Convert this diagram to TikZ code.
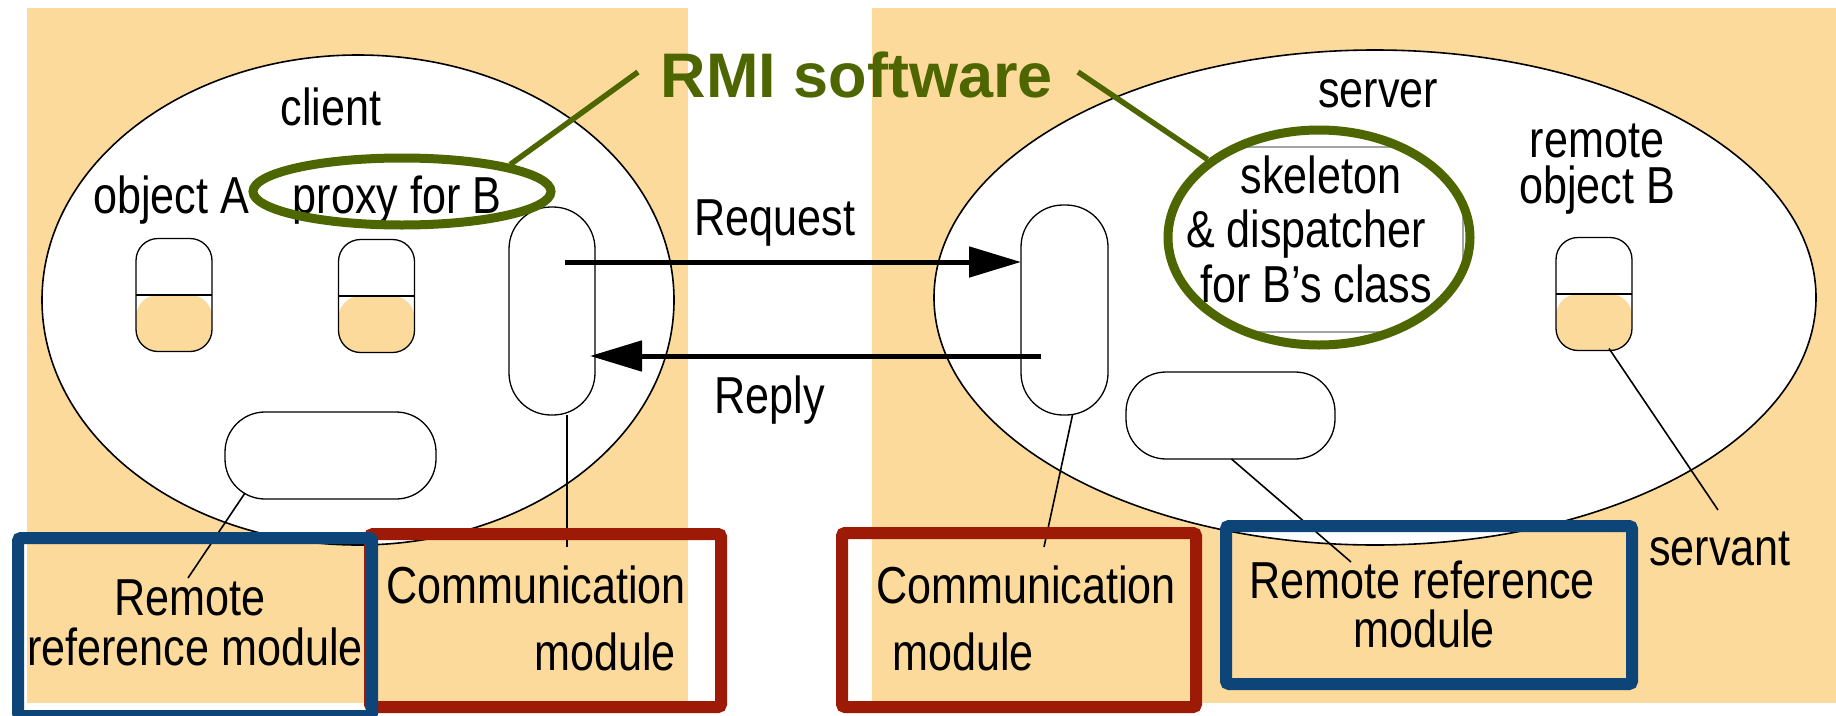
\documentclass[tikz,border=0pt]{standalone}
\usepackage{fontspec}
\setmainfont{Liberation Sans}
\newfontfamily\lblfont{Liberation Sans}[FakeStretch=0.83]
\usetikzlibrary{arrows.meta,shapes.geometric}

\definecolor{peach}{HTML}{FCDA9C}
\definecolor{rmigreen}{HTML}{4E6600}
\definecolor{boxblue}{HTML}{0E4578}
\definecolor{boxred}{HTML}{9C1A06}

\begin{document}
\begin{tikzpicture}[x=1pt,y=-1pt,
  lbl/.style={font=\lblfont\fontsize{52}{60}\selectfont, inner sep=0pt, anchor=base},
  host/.style={draw=black, line width=1.6pt, fill=white, ellipse, inner sep=0pt, outer sep=0pt},
  capsule/.style={draw=black, line width=1.3pt, fill=white, rounded corners=#1, inner sep=0pt, outer sep=0pt},
  objbox/.style={capsule=22pt, minimum width=76pt, minimum height=113pt,
    path picture={
      \fill[peach] (path picture bounding box.west) rectangle (path picture bounding box.south east);
      \draw[line width=1.3pt] (path picture bounding box.west) -- (path picture bounding box.east);}},
  leader/.style={draw=black, line width=1.6pt},
  msg/.style={draw=black, line width=5pt, -{Triangle[length=52pt,width=30pt]}},
  ring/.style={draw=rmigreen, line width=9pt, ellipse, inner sep=0pt},
  greenlead/.style={draw=rmigreen, line width=5.5pt},
  frame/.style={line width=12pt, rounded corners=3pt, inner sep=0pt, outer sep=0pt}
]
\useasboundingbox (0,0) rectangle (1836,715);
\fill[white] (0,0) rectangle (1836,715);

% peach backgrounds of the two hosts
\fill[peach] (27,8) rectangle (688,703);
\fill[peach] (872,8) rectangle (1836,703);

% process ellipses
\node[host, minimum width=632pt, minimum height=490pt] (clientproc) at (358,300) {};
\node[host, minimum width=882pt, minimum height=495pt] (serverproc) at (1375,297.5) {};

% client side parts
\node[objbox] (objA) at (174,295) {};
\node[objbox] (proxyB) at (376.5,296) {};
\node[capsule=42pt, minimum width=86pt, minimum height=208pt] (ccomm) at (552,311) {};
\node[capsule=40pt, minimum width=211pt, minimum height=87pt] (cref) at (330.5,455.5) {};

% server side parts
\node[capsule=42pt, minimum width=87pt, minimum height=210pt] (scomm) at (1064.5,310) {};
\node[capsule=40pt, minimum width=209pt, minimum height=87pt] (sref) at (1230.5,415.5) {};
\node[objbox] (objB) at (1594,294) {};
\begin{scope}
  \clip (1319,237.5) ellipse [x radius=150pt, y radius=106pt];
  \node[draw=black!55, line width=1.2pt, rounded corners=30pt, minimum width=292pt, minimum height=185pt, inner sep=0pt] (skel) at (1317,239.5) {};
\end{scope}

% labels inside the processes
\node[lbl] (clientlbl) at (331,125) {client};
\node[lbl] (objAlbl) at (171,213) {object A};
\node[lbl] (proxylbl) at (397,213) {proxy for B};
\node[lbl] (serverlbl) at (1378,107) {server};
\node[lbl] (remlbl1) at (1597,157) {remote};
\node[lbl] (remlbl2) at (1597,203) {object B};
\node[lbl] (skel1) at (1321,193) {skeleton};
\node[lbl] (skel2) at (1306,247) {\& dispatcher};
\node[lbl] (skel3) at (1316,302) {for B’s class};

% request and reply messages
\node[lbl] (reqlbl) at (775,235) {Request};
\node[lbl] (replbl) at (770,413) {Reply};
\coordinate (reqstart) at (565,262);
\coordinate (repstart) at (1041,356);
\draw[msg] (reqstart) -- (scomm.west |- reqstart);
\draw[msg] (repstart) -- ([xshift=-5pt]ccomm.east |- repstart);

% leader lines to the module labels
\coordinate (crefend) at (188,578);
\coordinate (ccommend) at (567,547);
\coordinate (scommend) at (1044,547);
\coordinate (srefend) at (1351,562);
\coordinate (servend) at (1718,510);
\draw[leader] ([xshift=20pt,yshift=6pt]cref.south west) -- (crefend);
\draw[leader] ([xshift=15pt]ccomm.south) -- (ccommend);
\draw[leader] ([xshift=8pt]scomm.south) -- (scommend);
\draw[leader] ([xshift=1pt]sref.south) -- (srefend);
\draw[leader] ([xshift=15pt,yshift=2pt]objB.south) -- (servend);

% module labels
\node[lbl] (crm1) at (190,615) {Remote};
\node[lbl] (crm2) at (195,665) {reference module};
\node[lbl] (ccm1) at (536,603) {Communication};
\node[lbl] (ccm2) at (605,670) {module};
\node[lbl] (scm1) at (1026,603) {Communication};
\node[lbl] (scm2) at (963,670) {module};
\node[lbl] (srm1) at (1422,598) {Remote reference};
\node[lbl] (srm2) at (1424,647) {module};
\node[lbl] (servlbl) at (1720,565) {servant};

% RMI software annotation
\node[font=\bfseries\fontsize{63}{70}\selectfont, text=rmigreen, inner sep=0pt, anchor=base] (rmi) at (857,97) {RMI software};
\node[ring, minimum width=298pt, minimum height=67pt] (proxyring) at (402,191.5) {};
\node[ring, minimum width=302pt, minimum height=215pt] (skelring) at (1319,237.5) {};
\coordinate (rmil) at (638,72);
\coordinate (rmir) at (1078,72);
\draw[greenlead] (rmil) -- (proxyring.14);
\draw[greenlead] (rmir) -- (skelring.145);

% module frames
\node[frame, draw=boxred, minimum width=351pt, minimum height=173pt] (credframe) at (545.5,620.5) {};
\node[frame, draw=boxblue, minimum width=354pt, minimum height=178pt] (cblueframe) at (195,627) {};
\node[frame, draw=boxred, minimum width=354pt, minimum height=174pt] (sredframe) at (1019,620) {};
\node[frame, draw=boxblue, minimum width=406pt, minimum height=158pt] (sblueframe) at (1429,605) {};
\end{tikzpicture}
\end{document}
